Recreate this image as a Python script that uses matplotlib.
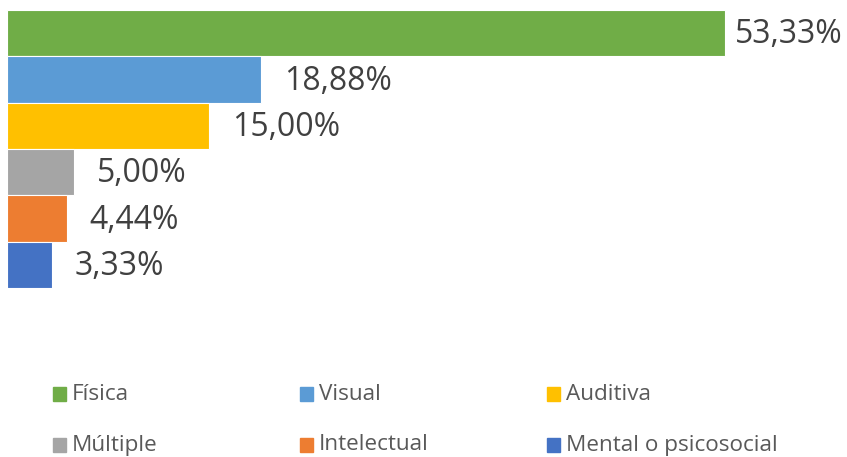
import matplotlib.pyplot as plt
from matplotlib.patches import Rectangle

# ============ Tipo de discapacidad (porcentaje) ============

categorias = ['Física', 'Visual', 'Auditiva', 'Múltiple', 'Intelectual', 'Mental o psicosocial']
valores = [53.33, 18.88, 15.00, 5.00, 4.44, 3.33]
etiquetas = ['53,33%', '18,88%', '15,00%', '5,00%', '4,44%', '3,33%']
colores = ['#70AD47', '#5B9BD5', '#FFC000', '#A5A5A5', '#ED7D31', '#4472C4']

plt.rcParams['font.family'] = ['Open Sans', 'DejaVu Sans']

W, H = 847, 457
fig = plt.figure(figsize=[W / 100, H / 100], dpi=100)

# axes in pixel terms: bars from x=7, y=10..288
ax = fig.add_axes([7 / W, 1 - 288 / H, (W - 7) / W, 278 / H])
ypos = list(range(len(valores)))
ax.barh(ypos, valores, height=1.0, color=colores, edgecolor='white', linewidth=0.8)
ax.set_xlim(0, (W - 7) / 13.46)
ax.set_ylim(len(valores) - 0.5, -0.5)
ax.axis('off')

for i, (v, t) in enumerate(zip(valores, etiquetas)):
    off = 7 if v == max(valores) else 16.5
    ax.annotate(t, (v, i), xytext=(off, -1.2), textcoords='offset points',
                ha='left', va='center', fontsize=23, color='#404040')

# legend, 3 columns x 2 rows
for i, (c, col) in enumerate(zip(categorias, colores)):
    cx = 53 + (i % 3) * 247
    cy = 394 + (i // 3) * 51
    fig.patches.append(Rectangle((cx / W, 1 - (cy + 7) / H), 13 / W, 14 / H,
                                 transform=fig.transFigure, color=col))
    fig.text((cx + 19) / W, 1 - cy / H, c, ha='left', va='center',
             fontsize=16.2, color='#595959')

plt.savefig('out.png', dpi=100)
plt.close(fig)
